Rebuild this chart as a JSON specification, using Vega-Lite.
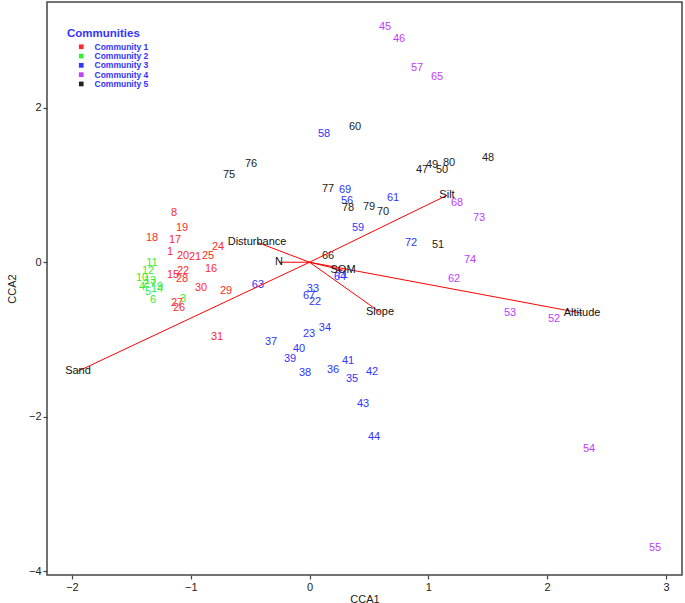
{
  "$schema": "https://vega.github.io/schema/vega-lite/v6.json",
  "width": 635,
  "height": 573,
  "autosize": "none",
  "padding": {"left": 47, "top": 2, "right": 3, "bottom": 28},
  "background": "white",
  "config": {
    "view": {"stroke": "#444444", "strokeWidth": 1.5},
    "axis": {
      "domain": false, "grid": false,
      "labelFont": "Liberation Sans", "labelFontSize": 11, "labelColor": "#222222",
      "titleFont": "Liberation Sans", "titleFontSize": 11, "titleFontWeight": "normal", "titleColor": "#222222",
      "tickColor": "#444444", "tickSize": 4, "tickWidth": 1.2, "labelPadding": 2, "format": "d"
    }
  },
  "datasets": {
    "sites": [
      {"id": "8", "cca1": -1.141, "cca2": 0.634, "community": "Community 1"},
      {"id": "19", "cca1": -1.073, "cca2": 0.440, "community": "Community 1"},
      {"id": "18", "cca1": -1.326, "cca2": 0.311, "community": "Community 1"},
      {"id": "17", "cca1": -1.132, "cca2": 0.285, "community": "Community 1"},
      {"id": "1", "cca1": -1.174, "cca2": 0.129, "community": "Community 1"},
      {"id": "20", "cca1": -1.065, "cca2": 0.078, "community": "Community 1"},
      {"id": "21", "cca1": -0.964, "cca2": 0.065, "community": "Community 1"},
      {"id": "25", "cca1": -0.854, "cca2": 0.078, "community": "Community 1"},
      {"id": "24", "cca1": -0.770, "cca2": 0.194, "community": "Community 1"},
      {"id": "16", "cca1": -0.829, "cca2": -0.091, "community": "Community 1"},
      {"id": "22", "cca1": -1.065, "cca2": -0.117, "community": "Community 1"},
      {"id": "15", "cca1": -1.149, "cca2": -0.168, "community": "Community 1"},
      {"id": "28", "cca1": -1.073, "cca2": -0.220, "community": "Community 1"},
      {"id": "30", "cca1": -0.913, "cca2": -0.337, "community": "Community 1"},
      {"id": "29", "cca1": -0.703, "cca2": -0.375, "community": "Community 1"},
      {"id": "27", "cca1": -1.115, "cca2": -0.531, "community": "Community 1"},
      {"id": "26", "cca1": -1.098, "cca2": -0.595, "community": "Community 1"},
      {"id": "31", "cca1": -0.779, "cca2": -0.971, "community": "Community 1"},
      {"id": "11", "cca1": -1.326, "cca2": -0.013, "community": "Community 2"},
      {"id": "12", "cca1": -1.359, "cca2": -0.117, "community": "Community 2"},
      {"id": "10", "cca1": -1.410, "cca2": -0.207, "community": "Community 2"},
      {"id": "13", "cca1": -1.343, "cca2": -0.246, "community": "Community 2"},
      {"id": "7", "cca1": -1.317, "cca2": -0.285, "community": "Community 2"},
      {"id": "2", "cca1": -1.376, "cca2": -0.285, "community": "Community 2"},
      {"id": "4", "cca1": -1.410, "cca2": -0.324, "community": "Community 2"},
      {"id": "9", "cca1": -1.258, "cca2": -0.324, "community": "Community 2"},
      {"id": "14", "cca1": -1.284, "cca2": -0.350, "community": "Community 2"},
      {"id": "5", "cca1": -1.359, "cca2": -0.388, "community": "Community 2"},
      {"id": "6", "cca1": -1.317, "cca2": -0.492, "community": "Community 2"},
      {"id": "3", "cca1": -1.065, "cca2": -0.479, "community": "Community 2"},
      {"id": "63", "cca1": -0.434, "cca2": -0.298, "community": "Community 3"},
      {"id": "33", "cca1": 0.029, "cca2": -0.350, "community": "Community 3"},
      {"id": "67", "cca1": -0.004, "cca2": -0.440, "community": "Community 3"},
      {"id": "22", "cca1": 0.046, "cca2": -0.518, "community": "Community 3"},
      {"id": "34", "cca1": 0.130, "cca2": -0.854, "community": "Community 3"},
      {"id": "23", "cca1": -0.004, "cca2": -0.932, "community": "Community 3"},
      {"id": "37", "cca1": -0.324, "cca2": -1.036, "community": "Community 3"},
      {"id": "40", "cca1": -0.088, "cca2": -1.126, "community": "Community 3"},
      {"id": "39", "cca1": -0.164, "cca2": -1.256, "community": "Community 3"},
      {"id": "38", "cca1": -0.038, "cca2": -1.437, "community": "Community 3"},
      {"id": "36", "cca1": 0.198, "cca2": -1.398, "community": "Community 3"},
      {"id": "41", "cca1": 0.324, "cca2": -1.282, "community": "Community 3"},
      {"id": "35", "cca1": 0.358, "cca2": -1.515, "community": "Community 3"},
      {"id": "42", "cca1": 0.526, "cca2": -1.424, "community": "Community 3"},
      {"id": "43", "cca1": 0.450, "cca2": -1.838, "community": "Community 3"},
      {"id": "44", "cca1": 0.543, "cca2": -2.265, "community": "Community 3"},
      {"id": "58", "cca1": 0.122, "cca2": 1.657, "community": "Community 3"},
      {"id": "69", "cca1": 0.299, "cca2": 0.932, "community": "Community 3"},
      {"id": "56", "cca1": 0.316, "cca2": 0.790, "community": "Community 3"},
      {"id": "61", "cca1": 0.703, "cca2": 0.828, "community": "Community 3"},
      {"id": "59", "cca1": 0.408, "cca2": 0.440, "community": "Community 3"},
      {"id": "72", "cca1": 0.854, "cca2": 0.246, "community": "Community 3"},
      {"id": "64", "cca1": 0.257, "cca2": -0.194, "community": "Community 3"},
      {"id": "71", "cca1": 0.274, "cca2": -0.168, "community": "Community 3"},
      {"id": "45", "cca1": 0.636, "cca2": 3.042, "community": "Community 4"},
      {"id": "46", "cca1": 0.753, "cca2": 2.887, "community": "Community 4"},
      {"id": "57", "cca1": 0.905, "cca2": 2.511, "community": "Community 4"},
      {"id": "65", "cca1": 1.073, "cca2": 2.395, "community": "Community 4"},
      {"id": "68", "cca1": 1.242, "cca2": 0.764, "community": "Community 4"},
      {"id": "73", "cca1": 1.427, "cca2": 0.570, "community": "Community 4"},
      {"id": "74", "cca1": 1.351, "cca2": 0.026, "community": "Community 4"},
      {"id": "62", "cca1": 1.216, "cca2": -0.220, "community": "Community 4"},
      {"id": "53", "cca1": 1.688, "cca2": -0.660, "community": "Community 4"},
      {"id": "52", "cca1": 2.058, "cca2": -0.738, "community": "Community 4"},
      {"id": "54", "cca1": 2.353, "cca2": -2.421, "community": "Community 4"},
      {"id": "55", "cca1": 2.908, "cca2": -3.702, "community": "Community 4"},
      {"id": "60", "cca1": 0.383, "cca2": 1.748, "community": "Community 5"},
      {"id": "48", "cca1": 1.503, "cca2": 1.346, "community": "Community 5"},
      {"id": "80", "cca1": 1.174, "cca2": 1.282, "community": "Community 5"},
      {"id": "49", "cca1": 1.031, "cca2": 1.256, "community": "Community 5"},
      {"id": "47", "cca1": 0.947, "cca2": 1.191, "community": "Community 5"},
      {"id": "50", "cca1": 1.115, "cca2": 1.191, "community": "Community 5"},
      {"id": "76", "cca1": -0.492, "cca2": 1.269, "community": "Community 5"},
      {"id": "75", "cca1": -0.678, "cca2": 1.126, "community": "Community 5"},
      {"id": "77", "cca1": 0.156, "cca2": 0.945, "community": "Community 5"},
      {"id": "78", "cca1": 0.324, "cca2": 0.699, "community": "Community 5"},
      {"id": "79", "cca1": 0.501, "cca2": 0.712, "community": "Community 5"},
      {"id": "70", "cca1": 0.619, "cca2": 0.647, "community": "Community 5"},
      {"id": "51", "cca1": 1.082, "cca2": 0.220, "community": "Community 5"},
      {"id": "66", "cca1": 0.156, "cca2": 0.078, "community": "Community 5"}
    ],
    "env": [
      {"variable": "Sand", "cca1": -1.949, "cca2": -1.411},
      {"variable": "Silt", "cca1": 1.157, "cca2": 0.867},
      {"variable": "Altitude", "cca1": 2.294, "cca2": -0.660},
      {"variable": "Slope", "cca1": 0.593, "cca2": -0.647},
      {"variable": "Disturbance", "cca1": -0.442, "cca2": 0.259},
      {"variable": "N", "cca1": -0.257, "cca2": 0.0},
      {"variable": "SOM", "cca1": 0.282, "cca2": -0.104}
    ]
  },
  "layer": [
    {
      "data": {"name": "sites"},
      "mark": {"type": "text", "font": "Liberation Sans", "fontSize": 11, "baseline": "middle", "align": "center"},
      "encoding": {
        "x": {"field": "cca1", "type": "quantitative", "scale": {"domain": [-2.21, 3.135], "nice": false, "zero": false},
              "axis": {"values": [-2, -1, 0, 1, 2, 3], "title": "CCA1", "titlePadding": 1}},
        "y": {"field": "cca2", "type": "quantitative", "scale": {"domain": [-4.05, 3.37], "nice": false, "zero": false},
              "axis": {"values": [-4, -2, 0, 2], "title": "CCA2", "titlePadding": 11}},
        "text": {"field": "id"},
        "color": {
          "field": "community", "type": "nominal",
          "scale": {"domain": ["Community 1", "Community 2", "Community 3", "Community 4", "Community 5"],
                    "range": ["#FF2A2A", "#33EE33", "#3333FF", "#C040FF", "#222222"]},
          "legend": {
            "orient": "none", "legendX": 20, "legendY": 26,
            "title": "Communities", "titleColor": "#3333FF", "titleFont": "Liberation Sans", "titleFontSize": 11.5, "titleFontWeight": "bold", "titlePadding": 3,
            "labelColor": "#3333FF", "labelFont": "Liberation Sans", "labelFontSize": 8.5, "labelFontWeight": "bold",
            "symbolType": "square", "symbolSize": 22, "rowPadding": 0.3, "labelOffset": 9, "symbolOffset": 10
          }
        }
      }
    },
    {
      "data": {"name": "env"},
      "mark": {"type": "rule", "color": "#FF0000", "strokeWidth": 1},
      "encoding": {
        "x": {"field": "cca1", "type": "quantitative"},
        "y": {"field": "cca2", "type": "quantitative"},
        "x2": {"datum": 0},
        "y2": {"datum": 0}
      }
    },
    {
      "data": {"name": "env"},
      "mark": {"type": "text", "font": "Liberation Sans", "fontSize": 11, "color": "#111111", "baseline": "middle", "align": "center"},
      "encoding": {
        "x": {"field": "cca1", "type": "quantitative"},
        "y": {"field": "cca2", "type": "quantitative"},
        "text": {"field": "variable"}
      }
    }
  ]
}
